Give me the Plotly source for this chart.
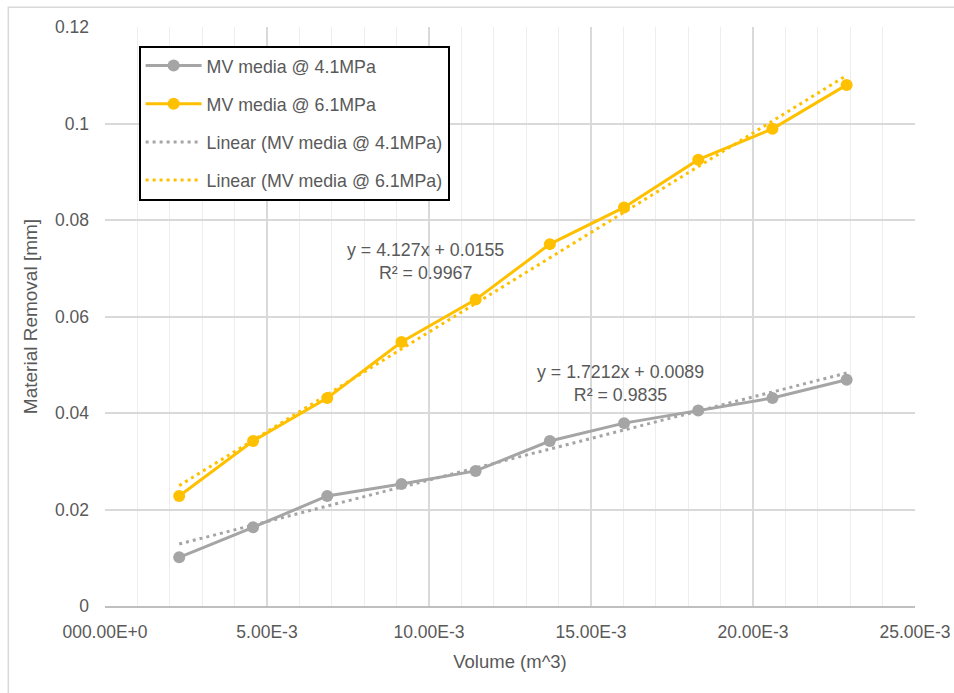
import plotly.graph_objects as go

# ---- data ----
volume = [2.29e-3, 4.57e-3, 6.86e-3, 9.15e-3, 11.44e-3, 13.73e-3, 16.02e-3, 18.31e-3, 20.60e-3, 22.89e-3]
removal_41 = [0.0101, 0.0163, 0.0228, 0.0253, 0.0280, 0.0342, 0.0379, 0.0405, 0.0431, 0.0469]
removal_61 = [0.0228, 0.0342, 0.0431, 0.0547, 0.0635, 0.0750, 0.0826, 0.0925, 0.0989, 0.1080]

name_41 = "MV media @ 4.1MPa"
name_61 = "MV media @ 6.1MPa"

# trendline coefficients as displayed on the chart
slope_41, icpt_41, r2_41 = 1.7212, 0.0089, 0.9835
slope_61, icpt_61, r2_61 = 4.127, 0.0155, 0.9967

x_tickvals = [0, 0.005, 0.010, 0.015, 0.020, 0.025]
x_ticktext = ["000.00E+0", "5.00E-3", "10.00E-3", "15.00E-3", "20.00E-3", "25.00E-3"]
y_tickvals = [0, 0.02, 0.04, 0.06, 0.08, 0.10, 0.12]
y_ticktext = ["0", "0.02", "0.04", "0.06", "0.08", "0.1", "0.12"]

GRAY = "#A5A5A5"
GOLD = "#FFC000"
TXT = "#595959"
FONT = "Liberation Sans, Arial, sans-serif"

trend_x = [volume[0], volume[-1]]
trend_41 = [slope_41 * v + icpt_41 for v in trend_x]
trend_61 = [slope_61 * v + icpt_61 for v in trend_x]

fig = go.Figure()
fig.add_trace(go.Scatter(x=volume, y=removal_41, name=name_41, mode="lines+markers",
                         line=dict(color=GRAY, width=3), marker=dict(color=GRAY, size=12),
                         legendgroup="a"))
fig.add_trace(go.Scatter(x=volume, y=removal_61, name=name_61, mode="lines+markers",
                         line=dict(color=GOLD, width=3), marker=dict(color=GOLD, size=12),
                         legendgroup="b"))
fig.add_trace(go.Scatter(x=trend_x, y=trend_41, name="Linear (" + name_41 + ")", mode="lines",
                         line=dict(color=GRAY, width=3, dash="3px,4px"), legendgroup="c"))
fig.add_trace(go.Scatter(x=trend_x, y=trend_61, name="Linear (" + name_61 + ")", mode="lines",
                         line=dict(color=GOLD, width=3, dash="3px,4px"), legendgroup="d"))

fig.add_annotation(x=9.886e-3, y=0.0713, xref="x", yref="y", showarrow=False,
                   text=f"y = {slope_61}x + {icpt_61}<br>R² = {r2_61}",
                   font=dict(size=17.8, color=TXT, family=FONT), align="center")
fig.add_annotation(x=15.895e-3, y=0.0462, xref="x", yref="y", showarrow=False,
                   text=f"y = {slope_41}x + {icpt_41}<br>R² = {r2_41}",
                   font=dict(size=17.8, color=TXT, family=FONT), align="center")

# outer chart border
fig.add_shape(type="rect", xref="paper", yref="paper", x0=-0.1194, x1=1.06, y0=-0.17, y1=1.0342,
              line=dict(color="#d9d9d9", width=1.5), fillcolor="rgba(0,0,0,0)", layer="below")

fig.update_layout(
    width=954, height=693,
    margin=dict(l=105, r=39, t=27, b=87, autoexpand=False),
    paper_bgcolor="white", plot_bgcolor="white",
    font=dict(family=FONT, size=17.5, color=TXT),
    showlegend=True,
    hovermode=False,
    legend=dict(x=0.0415, y=0.968, xanchor="left", yanchor="top",
                bgcolor="white", bordercolor="black", borderwidth=2,
                font=dict(size=17.8, color=TXT, family=FONT),
                traceorder="grouped", tracegroupgap=12, itemwidth=56),
    xaxis=dict(range=[0, 0.025], tickvals=x_tickvals, ticktext=x_ticktext,
               showgrid=True, gridcolor="#d9d9d9", gridwidth=1.5, automargin=False,
               minor=dict(dtick=0.001, showgrid=True, gridcolor="#ededed", gridwidth=1.2),
               showline=True, linecolor="#bfbfbf", linewidth=1.5, zeroline=False,
               ticks="", ticklabelstandoff=9,
               tickfont=dict(size=17.5, color=TXT),
               title=dict(text="Volume (m^3)", font=dict(size=18.5, color=TXT), standoff=14)),
    yaxis=dict(range=[0, 0.12], tickvals=y_tickvals, ticktext=y_ticktext,
               showgrid=True, gridcolor="#d9d9d9", gridwidth=1.5, automargin=False,
               showline=False, zeroline=False, ticks="", ticklabelstandoff=15,
               tickfont=dict(size=17.5, color=TXT),
               title=dict(text="Material Removal [mm]", font=dict(size=19, color=TXT), standoff=12)),
)

fig.write_html("out.html")
